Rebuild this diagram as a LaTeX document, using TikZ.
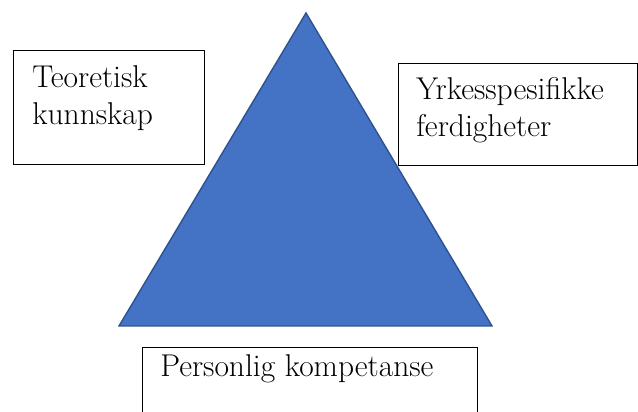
\documentclass[tikz,border=0pt]{standalone}
\usepackage{tikz}
\usetikzlibrary{calc}
\definecolor{triblue}{RGB}{68,114,196}
\definecolor{triedge}{RGB}{47,82,143}
\tikzset{
    textbox/.style={draw=black, line width=0.8pt, anchor=north west, inner sep=0pt},
    boxlabel/.style={anchor=north west, inner sep=0pt, align=left,
        font=\rmfamily\fontsize{22.4}{26.3}\selectfont},
}

\begin{document}
\begin{tikzpicture}[x=0.025cm, y=-0.025cm]
    \path[use as bounding box, clip] (0,0) rectangle (638,412);
    \fill[white] (0,0) rectangle (638,412);
    % Dreieck in der Mitte
    \coordinate (apex) at (306,13);
    \coordinate (baseL) at (119,326);
    \coordinate (baseR) at (492,326);
    \filldraw[fill=triblue, draw=triedge, line width=1pt] (apex) -- (baseL) -- (baseR) -- cycle;
    % Textfelder
    \node[textbox, minimum width=4.775cm, minimum height=2.85cm] (teo) at (13,50) {};
    \node[textbox, minimum width=5.975cm, minimum height=2.55cm] (yrk) at (398,63) {};
    \node[textbox, minimum width=8.375cm, minimum height=2.2cm] (pers) at (142,347) {};
    \node[boxlabel] (teotext) at ($(teo.north west)+(19,15)$) {Teoretisk\\kunnskap};
    \node[boxlabel] (yrktext) at ($(yrk.north west)+(18,14)$) {Yrkesspesifikke\\ferdigheter};
    \node[boxlabel] (perstext) at ($(pers.north west)+(18,7)$) {Personlig kompetanse};
\end{tikzpicture}
\end{document}
